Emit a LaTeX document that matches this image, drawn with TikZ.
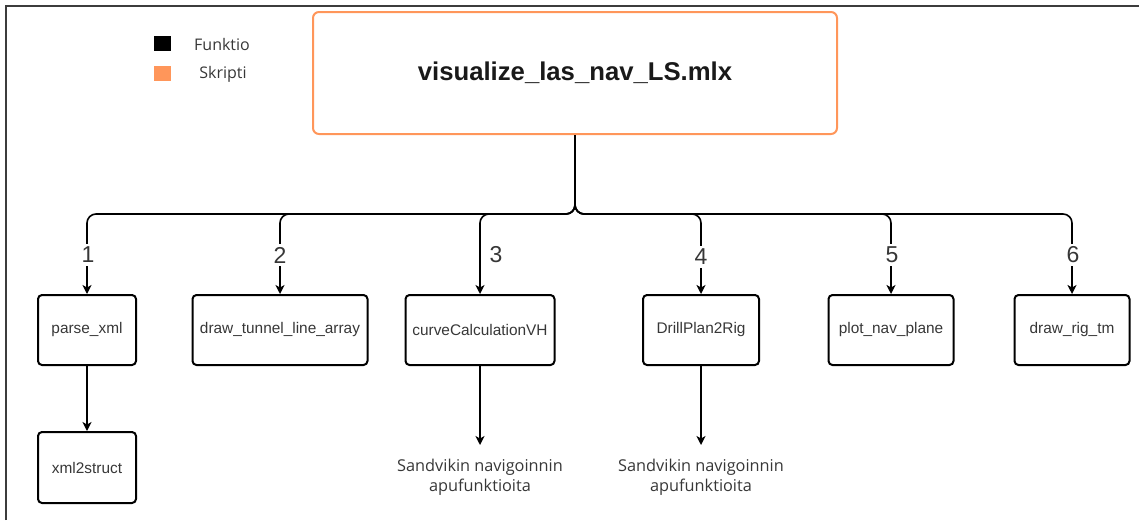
\documentclass[tikz,border=0pt]{standalone}
\usepackage{fontspec}
\setmainfont{Liberation Sans}
\newfontfamily\opensans{Open Sans}
\usetikzlibrary{arrows.meta}
\definecolor{orng}{RGB}{255,150,90}
\definecolor{txtgray}{RGB}{55,55,55}
\definecolor{frame}{RGB}{60,60,60}
\tikzset{
  fbox/.style={draw=black, line width=2pt, rounded corners=4pt, minimum height=70pt, inner sep=0pt,
    text=txtgray, font=\fontsize{15.4}{17}\selectfont},
  conn/.style={line width=1.6pt, rounded corners=9pt, -{Stealth[length=9pt,width=9pt,inset=2.5pt]}},
  num/.style={fill=white, inner sep=3pt, text=txtgray, font=\fontsize{23}{26}\selectfont},
  note/.style={align=center, text=txtgray, inner xsep=2pt, inner ysep=14pt, font=\opensans\fontsize{16.3}{19.5}\selectfont},
  legtext/.style={text=txtgray, inner sep=0pt, font=\opensans\fontsize{16}{18}\selectfont},
}
\begin{document}
\begin{tikzpicture}[x=1pt,y=-1pt]
\useasboundingbox (0,0) rectangle (1139,520);
% frame
\draw[frame, line width=2pt] (6,520) -- (6,6) -- (1139,6);
% legend
\node[fill=black, minimum width=17pt, minimum height=15pt, inner sep=0pt] (lf) at (162.5,43.5) {};
\node[fill=orng, minimum width=17pt, minimum height=15pt, inner sep=0pt] (ls) at (162.5,73.5) {};
\node[legtext] (lft) at (222,44) {Funktio};
\node[legtext] (lst) at (223,74) {Skripti};
% main script
\node[draw=orng, line width=2pt, rounded corners=6pt, minimum width=524pt, minimum height=122pt, inner sep=0pt,
  font=\bfseries\fontsize{25.7}{30}\selectfont, text=black!90] (main) at (575,73) {visualize\_las\_nav\_LS.mlx};
% functions
\node[fbox, minimum width=98pt] (p1) at (87,330) {\raisebox{-1.5pt}{parse\_xml}};
\node[fbox, minimum width=175pt] (p2) at (280,330) {\raisebox{-1.5pt}{draw\_tunnel\_line\_array}};
\node[fbox, minimum width=149pt] (p3) at (480,330) {\raisebox{-1.5pt}{curveCalculationVH}};
\node[fbox, minimum width=116pt] (p4) at (701,330) {\raisebox{-1.5pt}{DrillPlan2Rig}};
\node[fbox, minimum width=125pt] (p5) at (891,330) {\raisebox{-1.5pt}{plot\_nav\_plane}};
\node[fbox, minimum width=115pt] (p6) at (1072,330) {\raisebox{-1.5pt}{draw\_rig\_tm}};
\node[fbox, minimum width=98pt, minimum height=71pt] (x1) at (87,467.5) {\raisebox{-1.5pt}{xml2struct}};
% notes
\node[note, anchor=north] (n3) at (480,445) {Sandvikin navigoinnin\\apufunktioita};
\node[note, anchor=north] (n4) at (701,445) {Sandvikin navigoinnin\\apufunktioita};
% bus coordinates
\coordinate (b1) at (87,214);
\coordinate (b2) at (280,214);
\coordinate (b3) at (480,214);
\coordinate (b4) at (701,214);
\coordinate (b5) at (891,214);
\coordinate (b6) at (1072,214);
% connectors
\foreach \i in {1,...,6}{
  \draw[conn] (main.south) |- (b\i) -- (p\i.north);
}
\draw[conn] (p1.south) -- (x1.north);
\draw[conn] (p3.south) -- (n3.north);
\draw[conn] (p4.south) -- (n4.north);
% numbers
\node[num] (k1) at (88,255) {1};
\node[num] (k2) at (280,255) {2};
\node[text=txtgray, inner sep=0pt, font=\fontsize{23}{26}\selectfont] (k3) at (496,255) {3};
\node[num] (k4) at (701,257) {4};
\node[num] (k5) at (892,255) {5};
\node[num] (k6) at (1073,255) {6};
\end{tikzpicture}
\end{document}
